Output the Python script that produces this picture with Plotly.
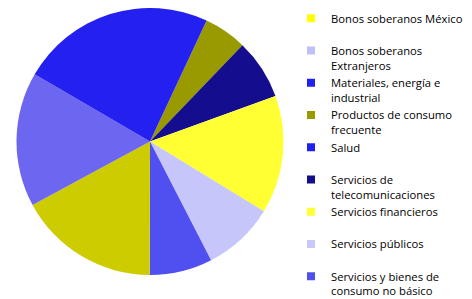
import plotly.graph_objects as go

# Pie slices, clockwise starting at the first slice
slice_labels = [
    "Productos de consumo frecuente",
    "Servicios de telecomunicaciones",
    "Servicios financieros",
    "Servicios públicos",
    "Servicios y bienes de consumo no básico",
    "Tecnologías de la información",
    "Otros",
    "Materiales, energía e industrial",
]
slice_values = [5.2, 7.3, 14.3, 8.7, 7.6, 17.1, 16.3, 23.6]
slice_colors = ["#999900", "#140E8F", "#FFFF33", "#C6C6FA", "#5050F0",
                "#CCCC00", "#6C66F0", "#2420F0"]

# Legend entries as shown in the reference
legend_labels = [
    "Bonos soberanos México",
    "Bonos soberanos<br>Extranjeros",
    "Materiales, energía e<br>industrial",
    "Productos de consumo<br>frecuente",
    "Salud",
    "Servicios de<br>telecomunicaciones",
    "Servicios financieros",
    "Servicios públicos",
    "Servicios y bienes de<br>consumo no básico",
]
legend_colors = ["#FFFF00", "#C0C0F8", "#2020F0", "#999900", "#2020F0",
                 "#140E8F", "#FFFF33", "#C8C8FA", "#5050F0"]

# page has an 8px body margin; figure sized to fill the rest of the window
W, H = 464, 291
fig = go.Figure()
fig.add_trace(go.Pie(
    labels=slice_labels, values=slice_values,
    marker=dict(colors=slice_colors, line=dict(width=0)),
    sort=False, direction="clockwise", rotation=25.1,
    textinfo="none", hoverinfo="label+percent", showlegend=False,
    domain=dict(x=[8.5 / W, 275.5 / W], y=[24 / H, 1]),
))
for lab, col in zip(legend_labels, legend_colors):
    name = lab if "<br>" in lab else lab + "<br>&nbsp;"
    fig.add_trace(go.Scatter(
        x=[None], y=[None], mode="markers", name=name,
        marker=dict(symbol="square", size=8, color=col),
    ))

fig.update_layout(
    width=W, height=H,
    margin=dict(l=0, r=0, t=0, b=0, autoexpand=False),
    paper_bgcolor="white", plot_bgcolor="white",
    xaxis=dict(visible=False), yaxis=dict(visible=False),
    legend=dict(
        x=283 / W, xanchor="left", y=1 + 3.5 / H, yanchor="top",
        font=dict(family="Open Sans", size=11.25, color="#000000"),
        valign="top", itemsizing="trace", maxheight=1000,
        bgcolor="rgba(0,0,0,0)",
    ),
)
fig.write_html("out.html")
